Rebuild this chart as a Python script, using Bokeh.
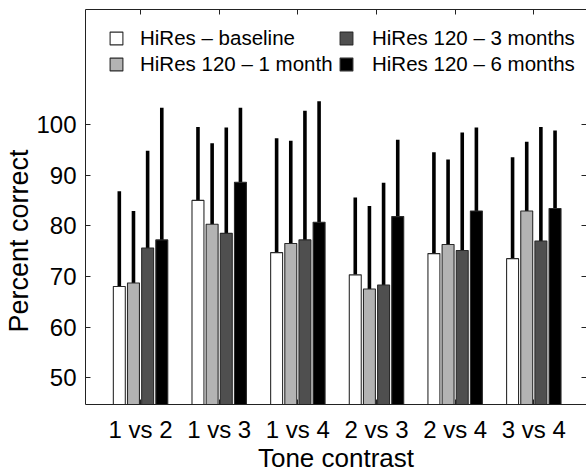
import numpy as np
from bokeh.plotting import figure
from bokeh.models import Range1d, LinearAxis, FixedTicker, Legend, LegendItem, Title
from bokeh.embed import file_html
from bokeh.resources import INLINE

categories = ["1 vs 2", "1 vs 3", "1 vs 4", "2 vs 3", "2 vs 4", "3 vs 4"]
series = ["HiRes \u2013 baseline", "HiRes 120 \u2013 1 month",
          "HiRes 120 \u2013 3 months", "HiRes 120 \u2013 6 months"]
baseline = [68.0, 85.0, 74.7, 70.3, 74.5, 73.5]
month1 = [68.7, 80.3, 76.5, 67.5, 76.3, 82.9]
month3 = [75.6, 78.5, 77.2, 68.3, 75.1, 77.0]
month6 = [77.2, 88.6, 80.7, 81.8, 82.9, 83.4]
baseline_sd = [18.8, 14.5, 22.6, 15.3, 20.0, 20.0]
month1_sd = [14.2, 16.0, 20.3, 16.4, 16.8, 13.7]
month3_sd = [19.2, 20.9, 25.5, 20.2, 23.3, 22.5]
month6_sd = [26.1, 14.7, 23.9, 15.2, 16.5, 15.4]
y_ticks = [50, 60, 70, 80, 90, 100]
x_title = "Tone contrast"
y_title = "Percent correct"

colors = ["#ffffff", "#b3b3b3", "#4f4f4f", "#000000"]
offsets = [-0.27, -0.09, 0.09, 0.27]
bar_w = 0.152
FONT = "Liberation Sans"

p = figure(width=586, height=475, x_range=Range1d(0.3, 6.67), y_range=Range1d(44.7, 122.7),
           output_backend="svg", toolbar_location=None,
           min_border_left=85, min_border_right=0, min_border_top=9, min_border_bottom=67)
p.xgrid.visible = False
p.ygrid.visible = False
p.outline_line_color = None

cat_pos = list(range(1, len(categories) + 1))
means = [baseline, month1, month3, month6]
sds = [baseline_sd, month1_sd, month3_sd, month6_sd]

renderers = []
for k in range(4):
    xs = [c + offsets[k] for c in cat_pos]
    tops = [m + s for m, s in zip(means[k], sds[k])]
    p.segment(x0=xs, y0=means[k], x1=xs, y1=tops, line_width=3.6, line_color="black", line_cap="butt")
for k in range(4):
    xs = [c + offsets[k] for c in cat_pos]
    r = p.vbar(x=xs, top=means[k], bottom=0, width=bar_w, fill_color=colors[k],
               line_color="#2a2a2a", line_width=1.1)
    renderers.append(r)

def style_axis(ax, show_labels=True):
    ax.major_tick_in = 5
    ax.major_tick_out = 0
    ax.minor_tick_line_color = None
    ax.axis_line_color = "#222222"
    ax.axis_line_width = 1
    ax.major_tick_line_color = "#222222"
    ax.major_label_text_font = FONT
    ax.major_label_text_color = "black"
    if not show_labels:
        ax.major_label_text_font_size = "1px"
        ax.major_label_text_color = None
        ax.major_label_standoff = 0

xax = p.xaxis[0]
xax.ticker = FixedTicker(ticks=cat_pos)
xax.major_label_overrides = {c: lab for c, lab in zip(cat_pos, categories)}
style_axis(xax)
xax.major_label_text_font_size = "24px"
xax.major_label_standoff = 11
xax.axis_label = x_title
xax.axis_label_text_font = FONT
xax.axis_label_text_font_size = "26px"
xax.axis_label_text_font_style = "normal"
xax.axis_label_text_color = "black"
xax.axis_label_standoff = -3

yax = p.yaxis[0]
yax.ticker = FixedTicker(ticks=y_ticks)
style_axis(yax)
yax.major_label_text_font_size = "24px"
yax.major_label_standoff = 9

top_ax = LinearAxis(ticker=FixedTicker(ticks=cat_pos))
style_axis(top_ax, False)
p.add_layout(top_ax, "above")
right_ax = LinearAxis(ticker=FixedTicker(ticks=y_ticks))
style_axis(right_ax, False)
right_ax.axis_line_color = None
p.add_layout(right_ax, "right")

ytitle = Title(text=y_title, align="left", offset=72, standoff=0,
               text_font=FONT, text_font_size="27px", text_font_style="normal",
               text_color="black")
p.add_layout(ytitle, "left")

def make_legend(idx, loc, standoff):
    leg = Legend(items=[LegendItem(label=series[i], renderers=[renderers[i]]) for i in idx],
                 location=loc)
    leg.border_line_alpha = 0
    leg.background_fill_alpha = 0
    leg.padding = 0
    leg.margin = 0
    leg.spacing = 2
    leg.glyph_width = 16
    leg.glyph_height = 16
    leg.label_standoff = standoff
    leg.label_height = 20
    leg.label_text_font = FONT
    leg.label_text_font_size = "20.5px"
    leg.label_text_color = "black"
    p.add_layout(leg)
    return leg

make_legend([0, 1], (23, 328), 16)
make_legend([2, 3], (253, 328), 18)

open("out.html", "w").write(file_html(p, INLINE))
